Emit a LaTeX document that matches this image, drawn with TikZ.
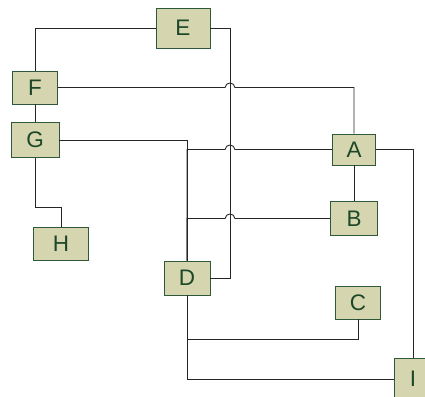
\documentclass[tikz,border=0pt]{standalone}
\usepackage{fontspec}
\setmainfont{Liberation Sans}
\begin{document}
\begin{tikzpicture}[x=1pt,y=-1pt,
  box/.style={draw=boxline,fill=boxfill,text=boxtext,line width=0.9pt,
    inner sep=0pt,font=\fontsize{22.5}{22.5}\selectfont},
  wire/.style={draw=black!85,line width=0.9pt}]
\definecolor{boxfill}{RGB}{213,213,176}
\definecolor{boxline}{RGB}{48,88,58}
\definecolor{boxtext}{RGB}{28,72,40}
\useasboundingbox (0,0) rectangle (425,396);
\clip (0,0) rectangle (425,396);

% nodes
\node[box,minimum width=54,minimum height=40] (E) at (183,28) {E};
\node[box,minimum width=45,minimum height=33] (F) at (35,87.5) {F};
\node[box,minimum width=48,minimum height=35] (G) at (35,140) {G};
\node[box,minimum width=55,minimum height=33] (H) at (61,243.5) {H};
\node[box,minimum width=43,minimum height=31] (A) at (354,149.5) {A};
\node[box,minimum width=47,minimum height=34] (B) at (354,218.5) {B};
\node[box,minimum width=46,minimum height=34] (D) at (187,278) {D};
\node[box,minimum width=45,minimum height=33] (C) at (358,302.5) {C};
\node[box,minimum width=38,minimum height=42] (I) at (413,379) {I};

% E links
\draw[wire] (E.west) -| (F.north);
\draw[wire] (E.east) -- (230,28) |- (D.east);
% F links
\draw[wire] (F.south) -- (G.north);
\draw[wire] (F.east) -- (225,87.5) .. controls (226,81.5) and (234,81.5) .. (235,87.5) -| (A.north);
% G links
\draw[wire] (G.east) -| (D.north);
\draw[wire] (G.south) -- (35,207) -| (H.north);
% D links, hopping over the E--D wire
\draw[wire] (D.north) -- (187,149.5) -- (225,149.5) .. controls (226,143.5) and (234,143.5) .. (235,149.5) -- (A.west);
\draw[wire] (D.north) -- (187,218.5) -- (225,218.5) .. controls (226,212.5) and (234,212.5) .. (235,218.5) -- (B.west);
\draw[wire] (D.south) |- (358,339) -- (C.south);
\draw[wire] (D.south) |- (I.west);
% A links
\draw[wire] (A.south) -- (B.north);
\draw[wire] (A.east) -| (I.north);
\end{tikzpicture}
\end{document}
